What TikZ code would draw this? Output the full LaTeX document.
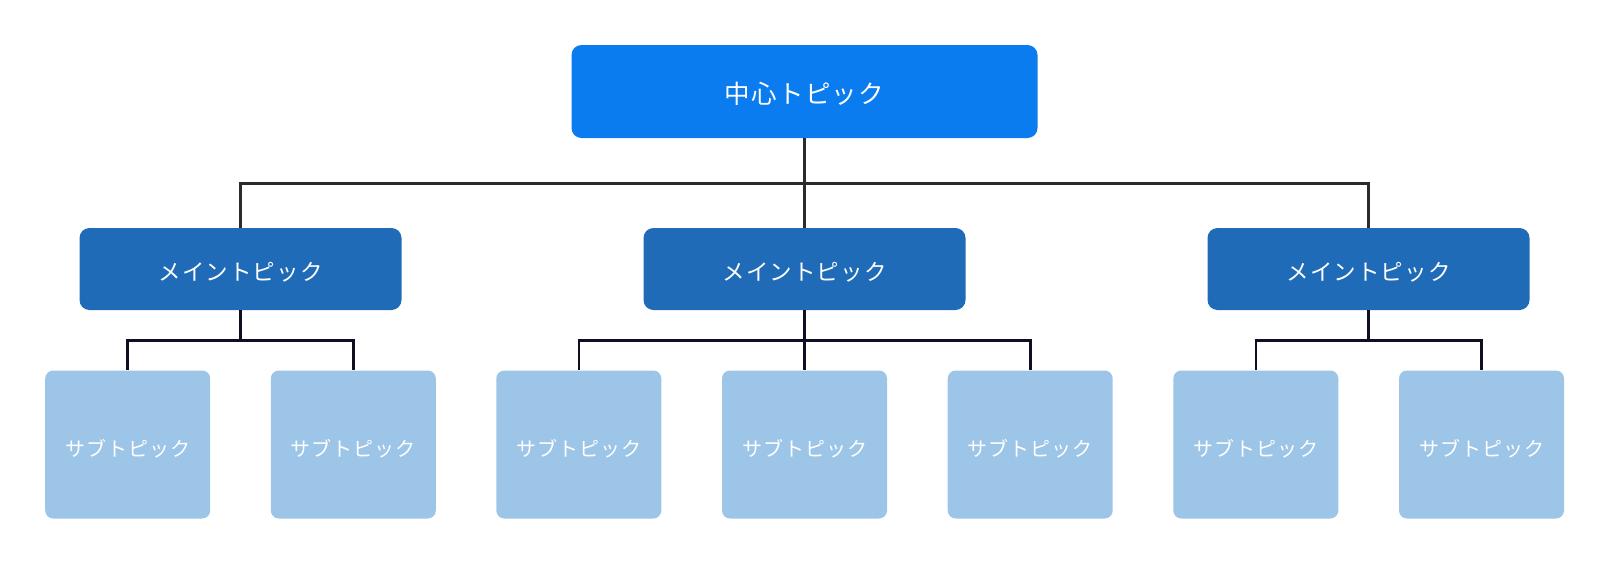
\documentclass[tikz,border=0pt]{standalone}
\usepackage{fontspec}
\setmainfont{Noto Sans CJK JP}[LetterSpace=5]
\usepackage{tikz}
\usetikzlibrary{positioning}
\definecolor{centralblue}{RGB}{10,124,239}
\definecolor{mainblue}{RGB}{31,107,184}
\definecolor{subblue}{RGB}{157,197,232}
\definecolor{trunkgray}{RGB}{43,43,43}
\definecolor{branchnavy}{RGB}{15,15,35}

\begin{document}
\begin{tikzpicture}[x=1pt,y=-1pt,
 topicbox/.style={rectangle,rounded corners=10pt,inner sep=0pt,text=white,
   text height=0.88em+16pt,text depth=0.12em},
 central/.style={topicbox,fill=centralblue,minimum width=466pt,minimum height=93pt,font=\fontsize{25.5}{30}\selectfont},
 maintopic/.style={topicbox,fill=mainblue,minimum width=322pt,minimum height=82pt,font=\fontsize{22.5}{26}\selectfont},
 subtopic/.style={topicbox,rounded corners=8pt,fill=subblue,minimum width=165pt,minimum height=148pt,font=\fontsize{20}{24}\selectfont},
 trunk/.style={line width=2.6pt,trunkgray},
 branch/.style={line width=2.6pt,branchnavy}]
 \useasboundingbox (0,0) rectangle (1610,579);
 \node[central] (c) at (804.5,91.5) {中心トピック};
 \node[maintopic] (m1) at (240.5,269) {メイントピック};
 \node[maintopic] (m2) at (804.5,269) {メイントピック};
 \node[maintopic] (m3) at (1368.5,269) {メイントピック};
 \node[subtopic] (s1) at (127.7,444.5) {サブトピック};
 \node[subtopic] (s2) at (353.3,444.5) {サブトピック};
 \node[subtopic] (s3) at (578.8,444.5) {サブトピック};
 \node[subtopic] (s4) at (804.5,444.5) {サブトピック};
 \node[subtopic] (s5) at (1030.2,444.5) {サブトピック};
 \node[subtopic] (s6) at (1255.8,444.5) {サブトピック};
 \node[subtopic] (s7) at (1481.5,444.5) {サブトピック};
 \foreach \m in {m1,m2,m3}
   \draw[trunk] (c.south) -- ++(0,45.5) -| (\m.north);
 \foreach \x/\y in {m1/s1,m1/s2,m2/s3,m2/s4,m2/s5,m3/s6,m3/s7}
   \draw[branch] (\x.south) -- ++(0,30.5) -| (\y.north);
\end{tikzpicture}
\end{document}
